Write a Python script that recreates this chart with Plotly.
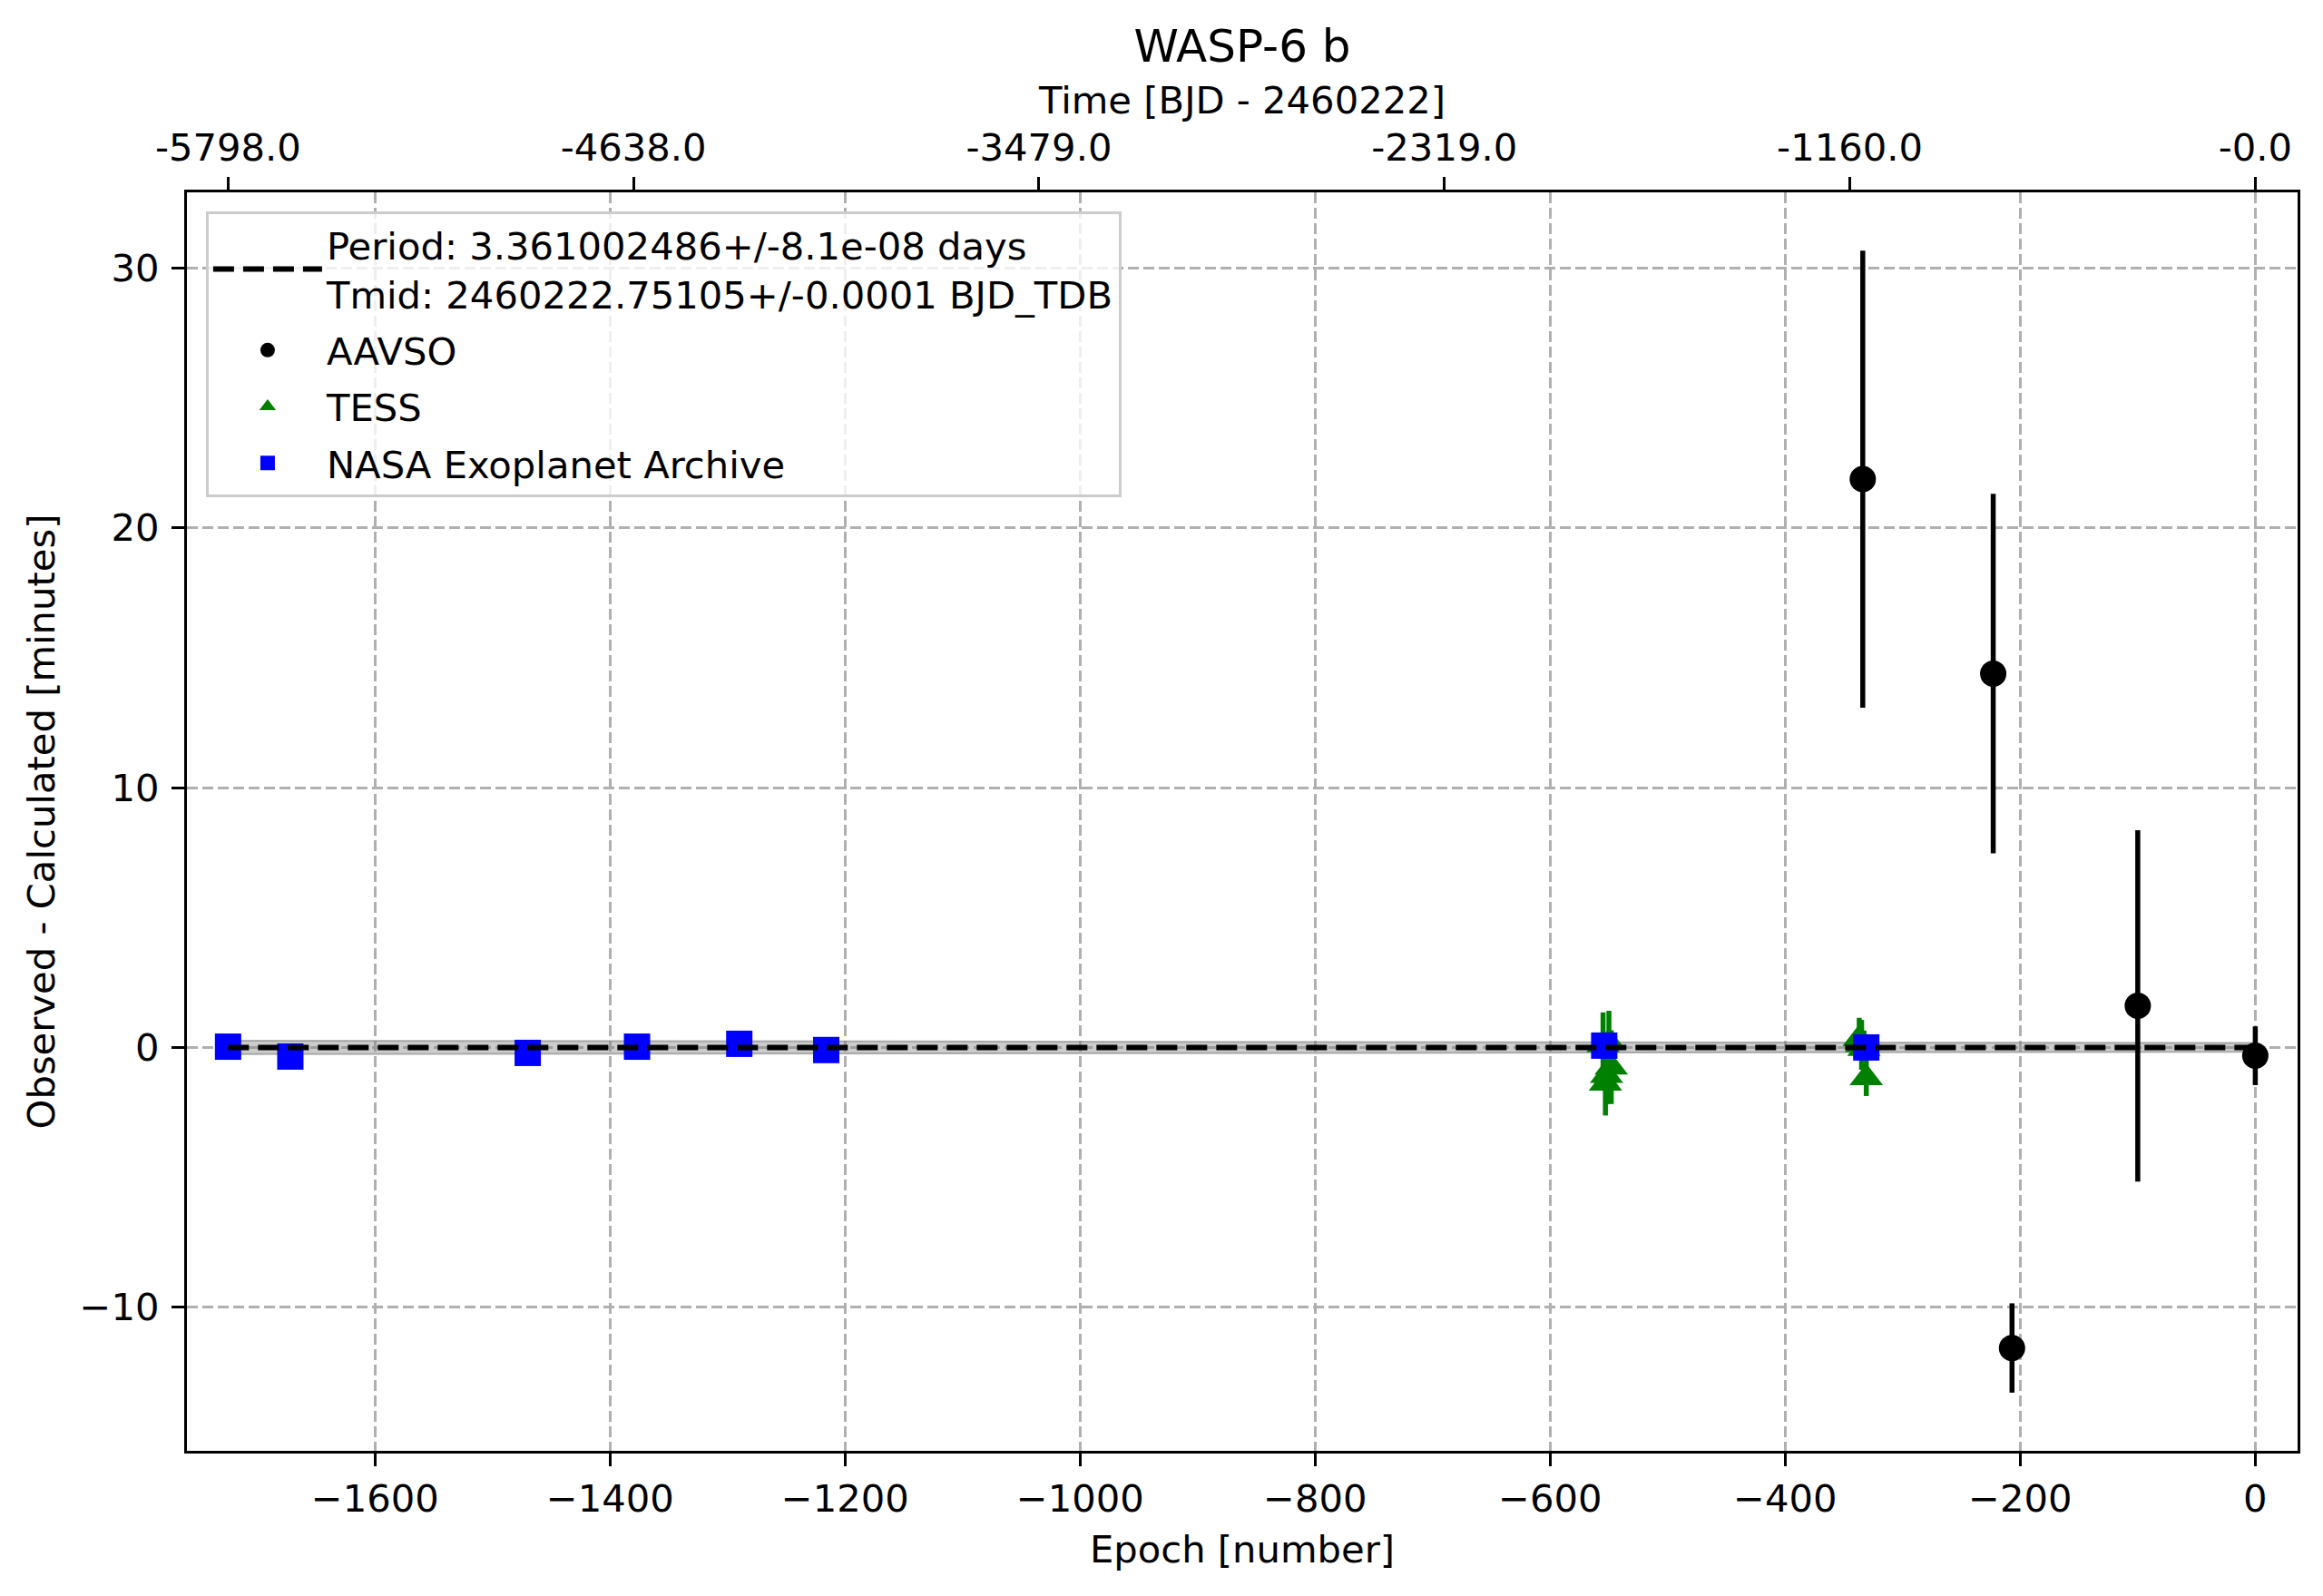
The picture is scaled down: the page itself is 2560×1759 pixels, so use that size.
import plotly.graph_objects as go

# O-C diagram for WASP-6 b

# AAVSO
aavso_epoch = [-334, -223, -207, -100, 0]
aavso_oc = [21.88, 14.39, -11.57, 1.60, -0.32]
aavso_err = [8.8, 6.92, 1.72, 6.76, 1.13]

# TESS
tess_epoch = [-555, -553, -552, -550, -548, -337, -335, -333, -331]
tess_oc = [0.10, -1.38, -1.09, 0.19, -0.76, 0.34, 0.10, -0.05, -1.17]
tess_err = [1.25, 1.24, 1.10, 1.22, 1.42, 0.80, 0.96, 0.70, 0.70]

# NASA Exoplanet Archive
nasa_epoch = [-1725, -1672, -1470, -1377, -1290, -1216, -554, -331]
nasa_oc = [0.03, -0.35, -0.21, 0.03, 0.14, -0.10, 0.07, 0.0]
nasa_err = [0.2, 0.2, 0.2, 0.2, 0.2, 0.2, 0.2, 0.2]

# ephemeris line and its uncertainty band
model_epoch = [-1725, 0]
model_oc = [0, 0]
band_half = [0.26, 0.17]

# top axis: time labels
top_tick_epoch = [-1725, -1380, -1035, -690, -345, 0]
top_tick_text = ["-5798.0", "-4638.0", "-3479.0", "-2319.0", "-1160.0", "-0.0"]

font = "DejaVu Sans"

# the page body has an 8px margin, so the figure is made that much smaller
W, H = 2544, 1743

fig = go.Figure()

# uncertainty band
fig.add_trace(go.Scatter(
    x=model_epoch + model_epoch[::-1],
    y=band_half + [-h for h in band_half[::-1]],
    fill="toself",
    fillcolor="rgba(128,128,128,0.4)",
    line=dict(color="rgba(128,128,128,0.6)", width=2),
    mode="lines",
    showlegend=False,
    hoverinfo="skip",
))

fig.add_trace(go.Scatter(
    x=aavso_epoch, y=aavso_oc, mode="markers", name="AAVSO",
    marker=dict(symbol="circle", size=29, color="black"),
    error_y=dict(type="data", array=aavso_err, color="black", thickness=5.5, width=0),
    legendrank=2, legendgroup="aavso",
))

fig.add_trace(go.Scatter(
    x=tess_epoch, y=tess_oc, mode="markers", name="TESS",
    marker=dict(symbol="triangle-up", size=32, color="green"),
    error_y=dict(type="data", array=tess_err, color="green", thickness=5.5, width=0),
    legendrank=3, legendgroup="tess",
))

fig.add_trace(go.Scatter(
    x=nasa_epoch, y=nasa_oc, mode="markers", name="NASA Exoplanet Archive",
    marker=dict(symbol="square", size=29, color="blue"),
    error_y=dict(type="data", array=nasa_err, color="blue", thickness=5.5, width=0),
    legendrank=4, legendgroup="nasa",
))

fig.add_trace(go.Scatter(
    x=model_epoch, y=model_oc, mode="lines",
    name="Period: 3.361002486+/-8.1e-08 days<br>Tmid: 2460222.75105+/-0.0001 BJD_TDB",
    line=dict(color="black", width=6, dash="23px,10px"),
    legendrank=1, legendgroup="model",
))

axis_common = dict(
    showline=True, linecolor="black", linewidth=3.3,
    ticks="outside", ticklen=14, tickwidth=3.3, tickcolor="black",
    tickfont=dict(family=font, size=41.7, color="black"),
    zeroline=False,
)

fig.update_layout(
    width=W, height=H,
    template="none",
    paper_bgcolor="white", plot_bgcolor="white",
    margin=dict(l=198, r=20, t=204, b=152),
    font=dict(family=font, size=41.7, color="black"),
    title=dict(text="WASP-6 b", font=dict(family=font, size=50, color="black"),
               x=0.5, xref="paper", xanchor="center",
               y=1 - 42 / H, yref="container", yanchor="middle"),
    xaxis=dict(
        range=[-1760, 36], dtick=200, tick0=0, mirror=True,
        showgrid=True, gridcolor="#b0b0b0", gridwidth=3.3, griddash="12px,5px",
        title=dict(text="Epoch [number]", font=dict(family=font, size=41.7), standoff=18),
        ticklabelstandoff=0,
        **axis_common,
    ),
    xaxis2=dict(
        overlaying="x", side="top", range=[-1760, 36],
        tickmode="array", tickvals=top_tick_epoch, ticktext=top_tick_text,
        showgrid=False,
        title=dict(text="Time [BJD - 2460222]", font=dict(family=font, size=41.7), standoff=0),
        ticklabelstandoff=1,
        **axis_common,
    ),
    yaxis=dict(
        range=[-15.53, 32.92], dtick=10, tick0=0, mirror=True,
        showgrid=True, gridcolor="#b0b0b0", gridwidth=3.3, griddash="12px,5px",
        title=dict(text="Observed - Calculated [minutes]", font=dict(family=font, size=41.7), standoff=14),
        ticklabelstandoff=5,
        **axis_common,
    ),
    legend=dict(
        x=0.009, y=0.985, xanchor="left", yanchor="top",
        bgcolor="rgba(255,255,255,0.8)", bordercolor="#cccccc", borderwidth=3,
        font=dict(family=font, size=41.7, color="black"),
        traceorder="grouped", tracegroupgap=5, itemwidth=120,
    ),
    showlegend=True,
)

# invisible trace so the top axis is drawn
fig.add_trace(go.Scatter(x=top_tick_epoch, y=[None] * len(top_tick_epoch), xaxis="x2",
                         mode="markers", showlegend=False, hoverinfo="skip"))

fig.write_html("out.html")
